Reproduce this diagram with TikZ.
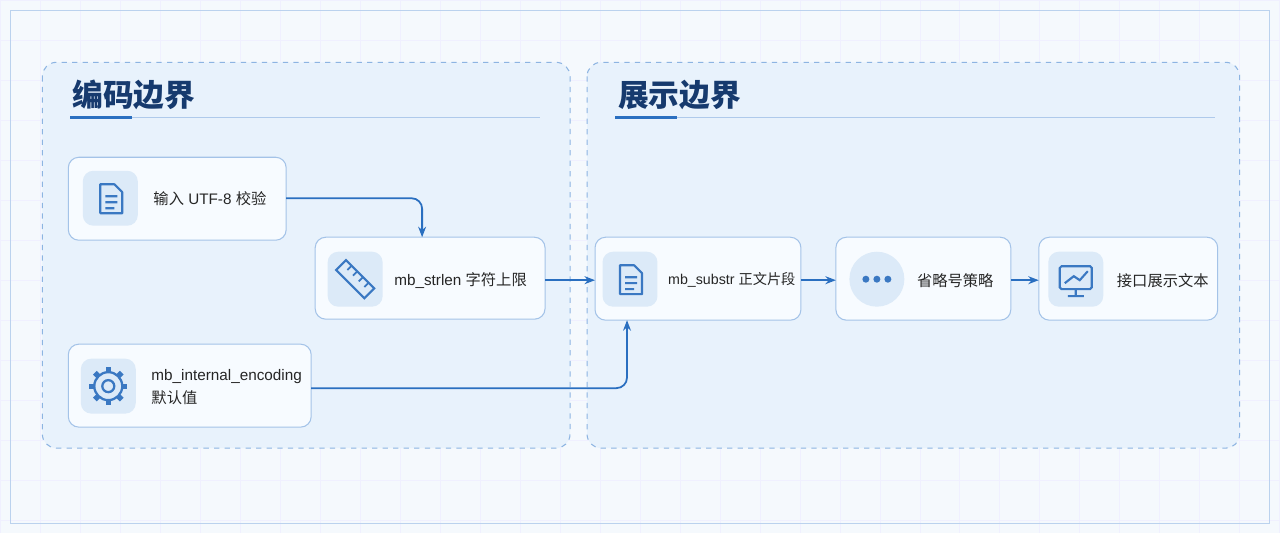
\documentclass[tikz,border=0pt]{standalone}
\usepackage{fontspec}
\setmainfont{Liberation Sans}
\newfontfamily\cjk{Noto Sans CJK SC}
\usetikzlibrary{arrows.meta,positioning}
\definecolor{bgc}{HTML}{F5F9FD}
\definecolor{panelc}{HTML}{E8F2FC}
\definecolor{edgec}{HTML}{8DB4E2}
\definecolor{boxc}{HTML}{F7FBFF}
\definecolor{iconbg}{HTML}{DCEAF8}
\definecolor{iconc}{HTML}{3A78C2}
\definecolor{titlec}{HTML}{163A6E}
\definecolor{arrowc}{HTML}{2A6FC0}
\tikzstyle{panel} = [draw=edgec,dashed,fill=panelc,rounded corners=8pt,line width=0.6pt]
\tikzstyle{box} = [draw=edgec!80,fill=boxc,rounded corners=6pt,line width=0.6pt]
\tikzstyle{ibg} = [fill=iconbg,rounded corners=6pt,minimum width=1.1cm,minimum height=1.1cm]
\tikzstyle{txt} = [anchor=west,font=\fontsize{8.7}{13}\selectfont,text=black!85,align=left]
\tikzstyle{flow} = [draw=arrowc,line width=1pt,-{Stealth[length=6pt]},rounded corners=6pt]
\tikzstyle{ttl} = [anchor=west,font=\cjk\fontsize{17.5}{22}\selectfont\bfseries,text=titlec]
\begin{document}
\begin{tikzpicture}[x=0.02cm,y=-0.02cm]
\fill[bgc] (0,0) rectangle (1280,533);
\foreach \i in {0,40,...,1280} \draw[blue!6] (\i,0) -- (\i,533);
\foreach \j in {0,40,...,520} \draw[blue!6] (0,\j) -- (1280,\j);
\draw[edgec!60] (10,10) rectangle (1270,523);
% panels
\draw[panel] (42,62) rectangle (570,448);
\draw[panel] (587,62) rectangle (1240,448);
\node[ttl] (t1) at (66,95) {编码边界};
\node[ttl] (t2) at (612,95) {展示边界};
\draw[edgec!70] (70,117) -- (540,117);
\draw[arrowc,line width=2pt] (70,117) -- (132,117);
\draw[edgec!70] (615,117) -- (1215,117);
\draw[arrowc,line width=2pt] (615,117) -- (677,117);
% boxes
\draw[box] (68,157) rectangle (286,240); \coordinate (n1) at (177,198);
\draw[box] (315,237) rectangle (545,319); \coordinate (n2) at (430,278);
\draw[box] (68,344) rectangle (311,427); \coordinate (n3) at (190,385);
\draw[box] (595,237) rectangle (801,320); \coordinate (n4) at (698,278);
\draw[box] (836,237) rectangle (1011,320); \coordinate (n5) at (923,278);
\draw[box] (1039,237) rectangle (1218,320); \coordinate (n6) at (1128,278);
% icons
\node[ibg] (i1) at (110,198) {};
\node[ibg] (i2) at (355,279) {};
\node[ibg] (i3) at (108,386) {};
\node[ibg] (i4) at (630,279) {};
\node[ibg,circle,minimum size=1.1cm] (i5) at (877,279) {};
\node[ibg] (i6) at (1076,279) {};
\draw[iconc,line width=1.2pt,line join=round] (100,184) -- (114,184) -- (122,192) -- (122,213) -- (100,213) -- cycle (105,196) -- (117,196) (105,202) -- (117,202) (105,208) -- (114,208);
\draw[iconc,line width=1.2pt,line join=round] (620,265) -- (634,265) -- (642,273) -- (642,294) -- (620,294) -- cycle (625,277) -- (637,277) (625,283) -- (637,283) (625,289) -- (634,289);
\draw[iconc,line width=1.2pt,rotate around={-45:(355,279)}] (335,272) rectangle (375,286);
\foreach \k in {-12,-4,4,12} \draw[iconc,line width=1pt,rotate around={-45:(355,279)}] (355+\k,272) -- (355+\k,278);
\draw[iconc,line width=1.3pt] (108,386) circle (6);
\draw[iconc,line width=1.3pt] (108,386) circle (14);
\foreach \a in {0,45,...,315} \draw[iconc,line width=3pt] (108,386) ++(\a:14) -- ++(\a:5);
\foreach \dx in {-11,0,11} \fill[iconc] (877+\dx,279) circle (3.5);
\draw[iconc,line width=1.2pt,rounded corners=1pt] (1060,266) rectangle (1092,289);
\draw[iconc,line width=1.2pt] (1076,289) -- (1076,296) (1068,296) -- (1084,296) (1065,283) -- (1074,276) -- (1080,280) -- (1088,271);
% labels
\node[txt] (l1) at (147,198) {{\cjk 输入} UTF-8 {\cjk 校验}};
\node[txt] (l2) at (388,280) {mb\_strlen {\cjk 字符上限}};
\node[txt] (l3) at (145,387) {mb\_internal\_encoding\\{\cjk 默认值}};
\node[txt,font=\fontsize{8.1}{12}\selectfont] (l4) at (662,280) {mb\_substr {\cjk 正文片段}};
\node[txt] (l5) at (911,280) {\cjk 省略号策略};
\node[txt] (l6) at (1111,280) {\cjk 接口展示文本};
% connectors
\coordinate (a1) at (286,198); \coordinate (b1) at (422,237);
\draw[flow] (a1) -| (b1);
\coordinate (a2) at (545,280); \coordinate (b2) at (595,280);
\draw[flow] (a2) -- (b2);
\coordinate (a3) at (311,388); \coordinate (b3) at (627,320);
\draw[flow] (a3) -| (b3);
\coordinate (a4) at (801,280); \coordinate (b4) at (836,280);
\draw[flow] (a4) -- (b4);
\coordinate (a5) at (1011,280); \coordinate (b5) at (1039,280);
\draw[flow] (a5) -- (b5);
\end{tikzpicture}
\end{document}
